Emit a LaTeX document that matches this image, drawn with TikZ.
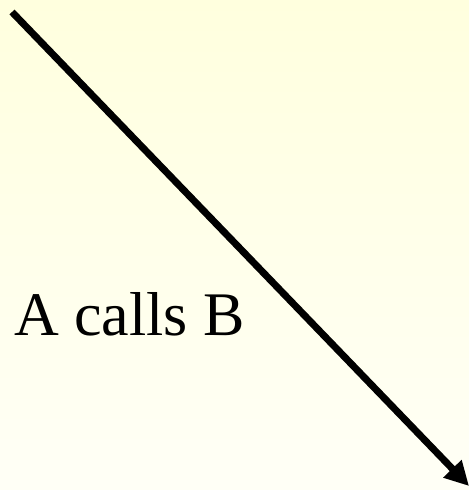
\documentclass[tikz,border=0pt]{standalone}
\usepackage{fontspec}
\setmainfont{Liberation Serif}
\usetikzlibrary{arrows.meta}
\begin{document}
\begin{tikzpicture}[x=1pt,y=1pt,
  callarrow/.style={line width=7pt,-{Triangle[length=24pt,width=24pt]}},
  label/.style={font=\fontsize{62}{62}\selectfont,inner sep=0pt,anchor=base west}]
\shade[top color={rgb,255:red,255;green,255;blue,222},bottom color={rgb,255:red,255;green,255;blue,246}] (0,0) rectangle (469,490);
\useasboundingbox (0,0) rectangle (469,490);
\coordinate (start) at (12,478);
\coordinate (stop) at (469,4);
\draw[callarrow] (start) -- (stop);
\node[label] (txt) at (14,154) {A calls B};
\end{tikzpicture}
\end{document}
